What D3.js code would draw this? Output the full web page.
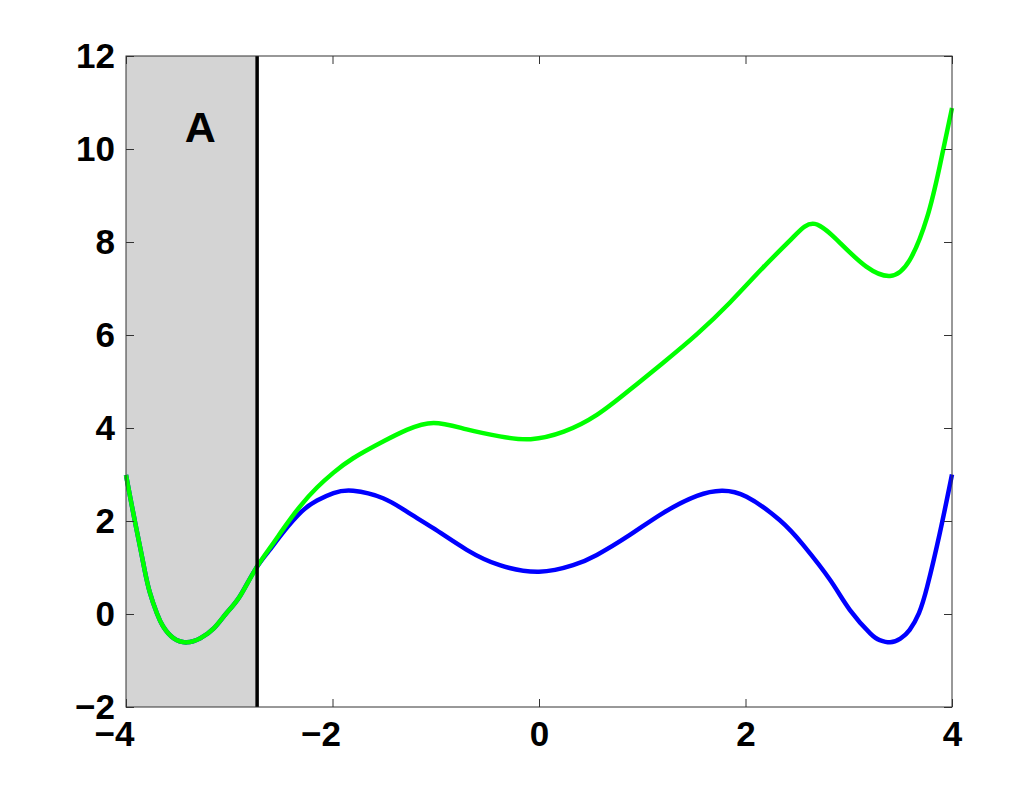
<!DOCTYPE html>
<html>
<head>
<meta charset="utf-8">
<script src="https://cdn.jsdelivr.net/npm/d3@7"></script>
<style>
  html, body { margin: 0; padding: 0; background: #fff; }
  svg text { font-family: "Liberation Sans", Arial, Helvetica, sans-serif; font-weight: bold; fill: #000; }
</style>
</head>
<body>
<svg id="chart" width="1024" height="785"></svg>
<script>
// ---- data ----
const blueX = [-4.0, -3.96, -3.91, -3.86, -3.82, -3.77, -3.70, -3.64, -3.54, -3.41, -3.28, -3.15, -3.03, -2.90, -2.75,
  -2.60, -2.48, -2.30, -2.15, -1.99, -1.80, -1.51, -1.28, -1.02, -0.70, -0.38, 0.0,
  0.33, 0.56, 0.88, 1.20, 1.53, 1.77, 2.01, 2.33, 2.56, 2.82, 3.01, 3.21, 3.30, 3.40, 3.50, 3.59, 3.68, 3.76, 3.88, 4.0];
const blueY = [2.99, 2.52, 1.95, 1.40, 0.95, 0.47, 0.01, -0.27, -0.52, -0.61, -0.52, -0.31, 0.01, 0.37, 0.95,
  1.40, 1.75, 2.20, 2.44, 2.60, 2.65, 2.49, 2.20, 1.84, 1.38, 1.05, 0.91,
  1.05, 1.27, 1.70, 2.17, 2.54, 2.65, 2.52, 2.02, 1.48, 0.73, 0.09, -0.42, -0.56, -0.61, -0.53, -0.34, 0.02, 0.59, 1.72, 3.0];

const greenX = [-4.0, -3.96, -3.91, -3.86, -3.82, -3.77, -3.70, -3.64, -3.54, -3.41, -3.28, -3.15, -3.03, -2.90, -2.75,
  -2.60, -2.48, -2.32, -2.15, -1.99, -1.80, -1.51, -1.28, -1.02, -0.70, -0.38, -0.08,
  0.24, 0.56, 0.88, 1.20, 1.53, 1.85, 2.17, 2.46, 2.67, 2.92, 3.17, 3.40, 3.59, 3.76, 3.88, 4.0];
const greenY = [2.99, 2.52, 1.95, 1.40, 0.95, 0.47, 0.01, -0.27, -0.52, -0.61, -0.52, -0.31, 0.01, 0.37, 0.95,
  1.44, 1.82, 2.30, 2.72, 3.04, 3.35, 3.71, 3.96, 4.11, 3.97, 3.82, 3.76,
  3.92, 4.28, 4.82, 5.40, 6.02, 6.70, 7.45, 8.10, 8.39, 7.97, 7.47, 7.27, 7.61, 8.54, 9.62, 10.88];

const xTicks = [-4, -2, 0, 2, 4];
const yTicks = [-2, 0, 2, 4, 6, 8, 10, 12];
const shadeStart = -4;
const shadeEnd = -2.73;
const regionLabel = "A";
const regionLabelPos = [-3.28, 10.16];

// ---- layout ----
(function () {
const svg = d3.select("#chart");
const mL = 126, mR = 952, mT = 56, mB = 707;
const x = d3.scaleLinear().domain([-4, 4]).range([mL, mR]);
const y = d3.scaleLinear().domain([-2, 12]).range([mB, mT]);
const fmt = d => d < 0 ? "\u2212" + Math.abs(d) : String(d);

svg.append("rect").attr("x", 0).attr("y", 0).attr("width", 1024).attr("height", 785).attr("fill", "#fff");

// shaded region
svg.append("rect")
  .attr("x", x(shadeStart)).attr("y", mT)
  .attr("width", x(shadeEnd) - x(shadeStart)).attr("height", mB - mT)
  .attr("fill", "#d4d4d4");

// curves
const line = d3.line().x(d => x(d[0])).y(d => y(d[1])).curve(d3.curveNatural);
const bluePts = blueX.map((v, i) => [v, blueY[i]]);
const greenPts = greenX.map((v, i) => [v, greenY[i]]);

svg.append("path").datum(bluePts).attr("d", line)
  .attr("fill", "none").attr("stroke", "#0000ff").attr("stroke-width", 4.5).attr("stroke-linejoin", "round");
svg.append("path").datum(greenPts).attr("d", line)
  .attr("fill", "none").attr("stroke", "#00ff00").attr("stroke-width", 4.5).attr("stroke-linejoin", "round");

// vertical line
svg.append("line")
  .attr("x1", x(shadeEnd)).attr("x2", x(shadeEnd))
  .attr("y1", mT).attr("y2", mB)
  .attr("stroke", "#000").attr("stroke-width", 3.5);

// axes (ticks inward)
const axisColor = "#333";
const gB = svg.append("g").attr("transform", `translate(0,${mB})`)
  .call(d3.axisBottom(x).tickValues(xTicks).tickSize(-8).tickFormat(fmt));
const gT = svg.append("g").attr("transform", `translate(0,${mT})`)
  .call(d3.axisTop(x).tickValues(xTicks).tickSize(-8).tickFormat(""));
const gL = svg.append("g").attr("transform", `translate(${mL},0)`)
  .call(d3.axisLeft(y).tickValues(yTicks).tickSize(-8).tickPadding(11).tickFormat(fmt));
const gR = svg.append("g").attr("transform", `translate(${mR},0)`)
  .call(d3.axisRight(y).tickValues(yTicks).tickSize(-8).tickFormat(""));

[gB, gT, gL, gR].forEach(g => {
  g.select(".domain").remove();
  g.selectAll(".tick line").attr("stroke", axisColor).attr("stroke-width", 1);
});

gB.selectAll(".tick text")
  .attr("font-size", 35).attr("fill", "#000")
  .attr("y", 39).attr("dy", 0)
  .attr("text-anchor", d => d < 0 ? "end" : "middle")
  .attr("x", d => d < 0 ? 8 : 0);
gL.selectAll(".tick text")
  .attr("font-size", 35).attr("fill", "#000").attr("dy", "0.34em");

// box
svg.append("rect")
  .attr("x", mL).attr("y", mT).attr("width", mR - mL).attr("height", mB - mT)
  .attr("fill", "none").attr("stroke", axisColor).attr("stroke-width", 1);

// region label
svg.append("text")
  .attr("x", x(regionLabelPos[0])).attr("y", y(regionLabelPos[1]))
  .attr("text-anchor", "middle").attr("font-size", 43)
  .text(regionLabel);
})();
</script>
</body>
</html>
